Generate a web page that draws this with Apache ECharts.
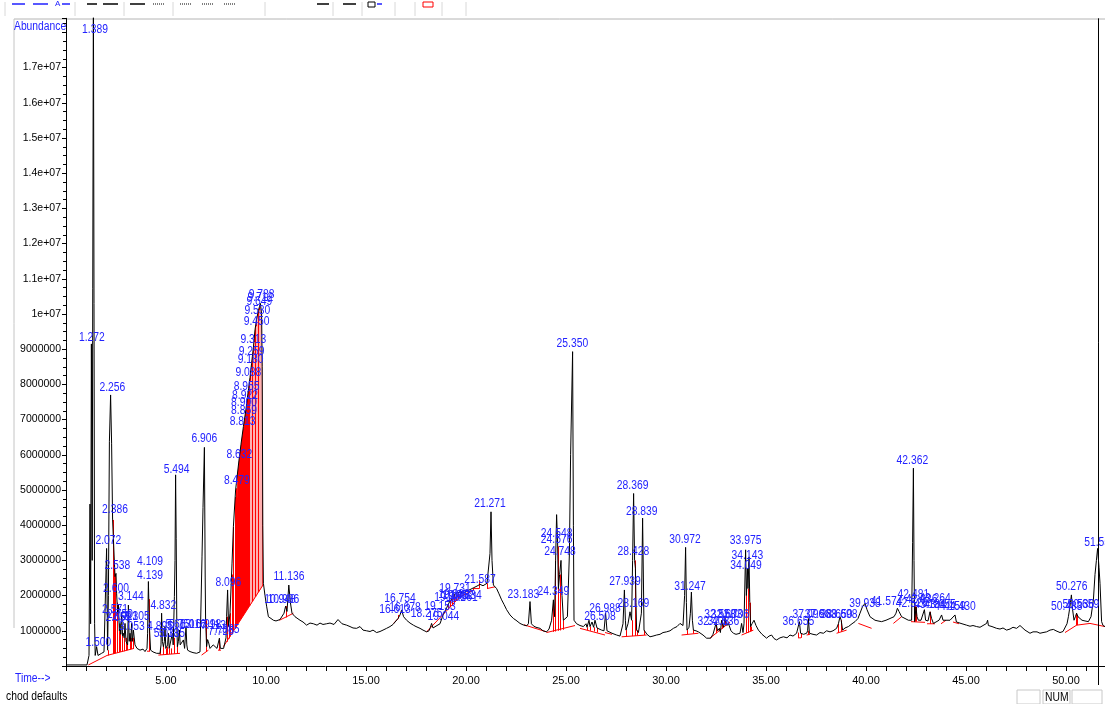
<!DOCTYPE html>
<html><head><meta charset="utf-8">
<script src="https://cdn.jsdelivr.net/npm/echarts@6/dist/echarts.min.js"></script>
<style>html,body{margin:0;padding:0;background:#fff}#c{width:1105px;height:704px}</style>
</head><body><div id="c"></div>
<script>
// Chromatogram trace: [time (min), abundance (millions)]
const TRACE = [[0.05,0.03],[1.05,0.03],[1.15,0.3],[1.2,4.6],[1.23,1.2],[1.27,9.15],[1.31,3.0],[1.37,19.5],[1.4,10.3],[1.43,1.2],[1.46,0.3],[1.53,0.55],[1.6,0.3],[1.67,0.35],[1.78,0.36],[1.9,0.4],[1.97,0.38],[2.03,3.34],[2.08,0.45],[2.12,2.0],[2.17,6.37],[2.23,7.7],[2.28,6.33],[2.33,4.15],[2.38,4.1],[2.45,2.54],[2.5,2.63],[2.53,2.07],[2.58,1.5],[2.62,1.73],[2.67,1.0],[2.7,1.21],[2.74,0.9],[2.78,1.5],[2.83,0.85],[2.87,0.93],[2.91,0.8],[2.95,1.21],[3.0,0.7],[3.03,0.74],[3.08,0.6],[3.12,1.73],[3.16,0.7],[3.2,0.93],[3.24,0.7],[3.28,1.21],[3.32,0.7],[3.37,1.02],[3.45,0.6],[3.55,0.5],[3.7,0.45],[3.85,0.48],[3.95,0.41],[4.05,0.5],[4.08,0.93],[4.12,2.4],[4.17,1.12],[4.23,0.45],[4.35,0.4],[4.53,0.36],[4.7,0.36],[4.75,0.6],[4.78,1.5],[4.82,0.7],[4.87,0.55],[4.92,0.7],[4.95,1.12],[4.99,0.5],[5.03,0.45],[5.08,0.6],[5.12,0.93],[5.16,0.5],[5.2,0.45],[5.26,0.55],[5.32,0.93],[5.36,0.6],[5.42,1.97],[5.45,3.0],[5.48,5.43],[5.51,3.63],[5.54,1.2],[5.57,0.55],[5.62,0.7],[5.67,1.02],[5.71,0.6],[5.75,0.55],[5.8,0.65],[5.87,0.74],[5.93,0.5],[6.0,1.12],[6.04,0.6],[6.08,0.45],[6.2,0.41],[6.35,0.38],[6.53,0.36],[6.7,0.4],[6.75,0.45],[6.8,3.1],[6.85,4.5],[6.92,6.21],[6.96,2.5],[6.98,1.3],[7.03,0.55],[7.08,0.75],[7.12,0.69],[7.2,0.5],[7.28,0.45],[7.36,0.6],[7.45,0.55],[7.55,0.5],[7.62,0.45],[7.67,0.79],[7.72,0.5],[7.78,0.45],[7.88,0.5],[7.95,0.5],[8.0,0.8],[8.03,1.4],[8.08,2.16],[8.13,1.12],[8.2,1.5],[8.3,2.9],[8.37,3.96],[8.48,5.0],[8.56,5.4],[8.65,5.85],[8.75,6.3],[8.87,6.8],[9.0,7.3],[9.12,7.84],[9.2,8.2],[9.28,8.6],[9.37,9.05],[9.45,9.55],[9.53,9.85],[9.62,10.1],[9.72,10.3],[9.78,10.0],[9.81,8.5],[9.84,4.0],[9.87,2.35],[9.95,2.0],[10.03,1.7],[10.12,1.4],[10.25,1.35],[10.37,1.3],[10.5,1.28],[10.7,1.32],[10.8,1.35],[10.9,1.5],[10.98,1.7],[11.05,1.55],[11.14,2.3],[11.22,1.8],[11.3,1.5],[11.45,1.4],[11.55,1.35],[11.7,1.3],[11.85,1.25],[12.03,1.16],[12.2,1.22],[12.37,1.2],[12.55,1.16],[12.7,1.22],[12.85,1.18],[13.03,1.2],[13.2,1.22],[13.4,1.18],[13.6,1.32],[13.8,1.2],[14.03,1.16],[14.2,1.12],[14.35,1.08],[14.53,1.07],[14.7,1.12],[14.85,1.02],[15.03,1.0],[15.2,0.98],[15.35,1.02],[15.53,0.95],[15.7,0.98],[15.85,1.02],[16.03,1.07],[16.2,1.12],[16.35,1.18],[16.45,1.21],[16.6,1.35],[16.7,1.45],[16.78,1.59],[16.88,1.4],[17.03,1.3],[17.2,1.22],[17.37,1.16],[17.5,1.12],[17.7,1.07],[17.85,1.02],[18.03,0.97],[18.15,1.0],[18.22,1.1],[18.28,1.21],[18.35,1.08],[18.45,1.1],[18.55,1.15],[18.7,1.2],[18.85,1.45],[19.03,1.65],[19.2,1.85],[19.37,1.95],[19.45,2.05],[19.55,2.0],[19.7,2.1],[19.85,2.07],[20.03,2.13],[20.2,2.17],[20.37,2.22],[20.55,2.27],[20.7,2.32],[20.85,2.28],[20.95,2.3],[21.05,2.35],[21.12,2.4],[21.2,3.2],[21.25,4.38],[21.3,3.0],[21.37,2.3],[21.45,2.28],[21.53,2.2],[21.65,2.05],[21.78,1.88],[21.9,1.75],[22.03,1.6],[22.2,1.45],[22.37,1.35],[22.5,1.3],[22.7,1.21],[22.85,1.17],[23.03,1.14],[23.12,1.2],[23.2,1.83],[23.27,1.2],[23.37,1.14],[23.5,1.1],[23.7,1.07],[23.85,1.0],[24.03,0.97],[24.15,1.05],[24.28,1.3],[24.37,1.88],[24.43,1.4],[24.48,3.0],[24.53,4.3],[24.58,3.5],[24.62,2.2],[24.68,2.6],[24.75,3.0],[24.8,2.0],[24.87,1.3],[24.95,1.3],[25.07,1.4],[25.17,3.2],[25.23,6.0],[25.33,8.93],[25.37,4.0],[25.4,1.3],[25.53,1.2],[25.7,1.15],[25.87,1.12],[26.0,1.2],[26.05,1.1],[26.15,1.3],[26.2,1.12],[26.3,1.25],[26.38,1.1],[26.45,1.3],[26.55,1.08],[26.65,1.05],[26.78,1.02],[26.9,1.0],[26.98,1.5],[27.05,1.0],[27.12,0.97],[27.3,0.93],[27.53,0.88],[27.7,0.85],[27.78,0.83],[27.85,1.2],[27.92,2.16],[27.97,1.3],[28.0,1.02],[28.1,1.2],[28.2,1.54],[28.28,1.3],[28.33,3.0],[28.38,4.9],[28.43,3.0],[28.47,2.78],[28.5,1.8],[28.53,1.02],[28.62,0.95],[28.7,0.93],[28.77,1.5],[28.83,4.2],[28.87,2.5],[28.9,1.02],[29.05,0.9],[29.2,0.83],[29.35,0.85],[29.53,0.88],[29.7,0.9],[29.85,0.95],[30.03,0.97],[30.2,1.0],[30.37,1.07],[30.55,1.12],[30.7,1.21],[30.85,1.15],[30.93,2.0],[30.98,3.37],[31.02,1.8],[31.05,1.02],[31.15,1.1],[31.22,1.5],[31.27,2.1],[31.32,1.3],[31.37,1.02],[31.5,1.0],[31.62,0.97],[31.7,0.93],[31.85,0.88],[32.03,0.79],[32.23,0.79],[32.35,0.9],[32.45,0.95],[32.5,1.21],[32.58,1.0],[32.67,1.07],[32.72,0.95],[32.78,1.3],[32.88,1.1],[32.95,1.35],[33.05,1.15],[33.12,1.21],[33.25,1.0],[33.37,0.93],[33.5,0.9],[33.7,0.93],[33.78,1.21],[33.85,0.95],[33.9,1.2],[33.98,3.3],[34.02,2.0],[34.07,2.78],[34.1,2.2],[34.15,3.1],[34.19,1.8],[34.23,1.12],[34.3,1.2],[34.4,1.3],[34.5,1.15],[34.62,1.02],[34.8,0.9],[35.03,0.79],[35.15,0.85],[35.28,0.88],[35.4,0.78],[35.53,0.74],[35.7,0.8],[35.87,0.83],[36.05,0.8],[36.2,0.88],[36.35,0.85],[36.53,0.93],[36.62,0.95],[36.67,1.26],[36.73,0.93],[36.88,0.9],[37.03,0.93],[37.08,1.0],[37.12,1.35],[37.17,0.93],[37.35,0.9],[37.53,0.88],[37.7,0.95],[37.87,0.93],[38.03,1.0],[38.2,0.97],[38.35,1.0],[38.53,1.07],[38.62,1.2],[38.7,1.4],[38.76,1.3],[38.83,1.02],[38.95,1.08],[39.12,1.12],[39.3,1.2],[39.45,1.26],[39.6,1.35],[39.7,1.5],[39.82,1.68],[39.95,1.78],[40.05,1.6],[40.2,1.4],[40.3,1.35],[40.45,1.3],[40.6,1.28],[40.78,1.26],[41.0,1.3],[41.2,1.35],[41.4,1.4],[41.5,1.5],[41.57,1.64],[41.65,1.55],[41.78,1.4],[41.95,1.35],[42.12,1.3],[42.28,1.3],[42.33,3.5],[42.37,5.62],[42.4,3.0],[42.43,1.26],[42.5,1.68],[42.55,1.4],[42.62,1.3],[42.75,1.3],[42.85,1.35],[42.92,1.6],[42.98,1.3],[43.1,1.28],[43.2,1.54],[43.28,1.35],[43.37,1.21],[43.5,1.25],[43.65,1.3],[43.78,1.45],[43.85,1.3],[43.95,1.35],[44.05,1.3],[44.2,1.3],[44.3,1.28],[44.45,1.45],[44.52,1.25],[44.62,1.21],[44.8,1.2],[45.03,1.16],[45.2,1.13],[45.35,1.15],[45.53,1.12],[45.7,1.1],[45.85,1.15],[46.03,1.21],[46.08,1.3],[46.12,1.15],[46.3,1.12],[46.53,1.07],[46.7,1.05],[46.85,1.08],[47.03,1.02],[47.2,1.05],[47.35,1.1],[47.53,1.07],[47.7,1.15],[47.8,1.1],[47.95,1.02],[48.2,0.93],[48.35,0.97],[48.45,1.02],[48.55,0.97],[48.7,0.93],[48.85,0.95],[49.03,0.97],[49.2,1.02],[49.37,1.04],[49.5,1.0],[49.7,0.95],[49.85,0.98],[49.95,1.02],[50.05,1.2],[50.12,1.4],[50.2,1.7],[50.27,2.02],[50.33,1.6],[50.4,1.3],[50.47,1.4],[50.53,1.5],[50.6,1.4],[50.7,1.4],[50.8,1.3],[50.95,1.28],[51.12,1.26],[51.25,1.4],[51.37,1.88],[51.45,2.6],[51.52,3.0],[51.58,3.34],[51.65,2.8],[51.7,2.35],[51.78,1.26],[51.85,1.15],[51.95,1.12]];

// Integration baselines: [t1, v1, t2, v2] (millions)
const BASE_SEGS = [[1.12,0.03,2.05,0.3],[2.05,0.3,3.4,0.5],[4.05,0.42,4.2,0.42],[4.62,0.31,5.7,0.36],[6.78,0.31,7.12,0.45],[7.6,0.45,7.75,0.45],[7.87,0.55,9.85,2.3],[10.67,1.3,11.03,1.4],[11.03,1.4,11.37,1.5],[16.37,1.21,16.62,1.35],[18.03,0.97,19.7,1.97],[19.7,1.97,20.37,2.16],[20.37,2.2,20.67,2.2],[21.05,2.2,21.45,2.25],[22.9,1.17,24.03,0.97],[24.03,0.95,25.45,1.15],[25.7,1.07,26.95,0.88],[26.95,0.95,27.3,0.9],[27.78,0.83,29.03,0.88],[30.78,0.88,31.62,0.93],[32.2,0.79,33.2,1.25],[33.78,0.88,34.37,1.02],[36.6,0.8,36.75,0.8],[37.03,0.88,37.2,0.9],[38.53,0.93,39.03,1.02],[39.62,1.21,40.28,1.07],[41.37,1.21,41.78,1.4],[42.25,1.26,42.95,1.24],[43.05,1.2,43.45,1.2],[43.75,1.2,44.0,1.3],[44.35,1.25,44.65,1.2],[49.95,0.95,50.53,1.16],[50.53,1.16,51.2,1.21],[51.2,1.21,51.95,1.12]];

// Peak drop lines: [t, base, top] (millions)
const DROPS = [[2.08,0.3,0.45],[2.35,0.34,4.15],[2.42,0.35,3.0],[2.47,0.36,2.6],[2.55,0.37,1.8],[2.65,0.39,1.0],[2.72,0.4,1.0],[2.8,0.41,0.9],[2.9,0.42,0.8],[2.98,0.44,0.8],[3.06,0.45,0.6],[3.18,0.47,0.8],[3.26,0.48,0.8],[3.34,0.49,0.8],[4.14,0.42,1.9],[4.72,0.32,0.5],[4.85,0.32,0.6],[4.99,0.33,0.5],[5.06,0.33,0.55],[5.16,0.34,0.5],[5.24,0.34,0.5],[5.38,0.35,0.8],[5.56,0.36,0.6],[6.98,0.4,1.3],[7.67,0.45,0.79],[8.03,0.69,1.4],[8.13,0.78,1.12],[8.2,0.84,1.5],[8.28,0.91,2.6],[8.37,0.99,3.96],[8.45,1.06,4.8],[8.5,1.11,5.05],[10.98,1.38,1.7],[16.62,1.35,1.45],[19.1,1.61,1.75],[19.2,1.67,1.85],[19.3,1.73,1.92],[19.4,1.79,2.0],[19.5,1.85,2.02],[19.6,1.91,2.05],[19.68,1.96,2.08],[20.37,2.16,2.22],[20.67,2.2,2.44],[21.05,2.2,2.35],[24.37,0.97,1.85],[24.47,0.98,3.0],[24.6,1.0,3.4],[24.68,1.01,2.6],[24.87,1.03,1.3],[26.05,1.02,1.1],[26.2,1.0,1.12],[26.38,0.98,1.1],[26.55,0.95,1.08],[28.0,0.84,1.02],[28.28,0.85,1.3],[28.43,0.86,3.0],[28.47,0.86,2.78],[28.53,0.86,1.02],[28.9,0.88,1.02],[31.05,0.9,1.02],[31.37,0.92,1.02],[32.5,0.93,1.21],[32.67,1.01,1.07],[32.78,1.06,1.3],[32.95,1.14,1.35],[34.02,0.94,2.0],[34.1,0.95,2.2],[34.19,0.98,1.8],[34.23,0.99,1.12],[36.62,0.8,0.95],[36.73,0.8,0.93],[37.08,0.88,1.0],[38.62,0.95,1.2],[38.76,0.97,1.3],[42.45,1.26,1.7],[42.5,1.26,1.68],[43.2,1.2,1.54],[50.5,1.15,1.5],[50.56,1.16,1.45]];

// Large integrated hump: time span and its baseline end points
const HUMP_SPAN = [8.5, 9.84];
const HUMP_BASE = [[9.84,2.29],[8.5,1.11]];
// lighter stripes inside the hump: [t, base, top]
const HUMP_STRIPES = [[9.18,1.71,8.1],[9.25,1.77,8.45],[9.33,1.84,8.85],[9.4,1.9,9.2],[9.48,1.97,9.65],[9.56,2.04,9.95],[9.63,2.11,10.1],[9.7,2.17,10.25],[9.77,2.23,10.05]];

// Peak labels: [text, t, v(millions)]
const PEAK_LABELS = [["1.389",1.45,18.07],["1.272",1.29,9.34],["1.500",1.62,0.66],["2.072",2.12,3.55],["2.256",2.32,7.92],["2.386",2.45,4.45],["2.538",2.57,2.84],["2.600",2.5,2.21],["3.144",3.24,1.97],["2.571",2.45,1.59],["2.659",2.62,1.36],["2.750",2.7,1.45],["2.921",2.95,1.4],["3.053",3.29,1.12],["3.305",3.54,1.4],["4.109",4.2,2.96],["4.139",4.2,2.56],["4.832",4.87,1.7],["4.895",4.7,1.12],["5.033",5.03,0.93],["5.185",5.3,0.93],["5.613",5.62,1.16],["5.751",5.8,1.16],["6.016",6.35,1.16],["5.494",5.53,5.57],["6.906",6.92,6.46],["6.998",7.12,1.16],["7.113",7.37,1.14],["7.725",7.75,0.97],["7.885",8.03,1.04],["8.096",8.12,2.37],["8.479",8.54,5.26],["8.632",8.67,5.99],["8.813",8.83,6.94],["8.859",8.9,7.24],["8.900",8.9,7.48],["8.922",8.95,7.67],["8.955",9.03,7.93],["9.088",9.12,8.32],["9.180",9.23,8.71],["9.259",9.28,8.93],["9.313",9.37,9.28],["9.450",9.53,9.78],["9.530",9.57,10.09],["9.649",9.67,10.35],["9.712",9.72,10.45],["9.788",9.78,10.54],["10.948",10.7,1.88],["10.986",10.87,1.88],["11.136",11.15,2.54],["16.613",16.45,1.59],["16.754",16.7,1.92],["16.678",16.95,1.67],["18.275",18.03,1.5],["19.044",18.87,1.4],["19.153",18.7,1.68],["19.731",19.45,2.21],["19.301",19.2,1.93],["19.389",19.4,2.02],["19.452",19.6,1.99],["19.561",19.8,1.93],["19.634",20.0,1.99],["21.587",20.7,2.44],["21.271",21.2,4.62],["23.183",22.87,2.02],["24.349",24.37,2.11],["24.548",24.53,3.77],["24.576",24.53,3.6],["24.748",24.7,3.25],["25.350",25.32,9.15],["26.508",26.7,1.4],["26.988",26.95,1.64],["27.939",27.95,2.39],["28.169",28.37,1.78],["28.369",28.33,5.12],["28.428",28.37,3.25],["28.839",28.79,4.38],["30.972",30.95,3.58],["31.247",31.2,2.25],["32.408",32.37,1.26],["32.558",32.7,1.45],["32.603",33.03,1.47],["32.706",33.37,1.47],["32.536",32.87,1.26],["33.975",33.98,3.56],["34.143",34.07,3.13],["34.049",34.0,2.85],["36.655",36.62,1.26],["37.096",37.12,1.45],["37.963",37.73,1.45],["38.650",38.53,1.45],["38.698",38.78,1.45],["39.938",39.95,1.78],["41.574",41.03,1.83],["42.362",42.32,5.83],["42.481",42.37,2.02],["42.526",42.28,1.78],["42.936",42.78,1.88],["43.264",43.45,1.92],["43.184",43.2,1.73],["43.655",43.7,1.73],["44.159",44.2,1.68],["44.430",44.7,1.68],["50.276",50.29,2.25],["50.483",50.04,1.68],["50.536",50.62,1.73],["50.659",50.87,1.73],["51.559",51.7,3.5]];

const CURSOR_T = 51.59;
const X_TICKS = {min:0, max:51.95, step:5};
const Y_TICKS = {min:0, max:18.4e6, step:1e6};

const M = 1e6;
const FONT = "'Liberation Sans', Arial, sans-serif";
const BLUE = '#2323ff';
const RED = '#ff0000';
const NARROW = 0.86;

const chart = echarts.init(document.getElementById('c'), null, {renderer:'canvas'});

const humpPoly = TRACE.filter(p => p[0] >= HUMP_SPAN[0] && p[0] <= HUMP_SPAN[1]).concat(HUMP_BASE);

function yFmt(v){
  if (v <= 0 || v > 1.75e7) return '';
  if (v >= 1e7) { const m = Math.round(v/1e6)/10; return m + 'e+07'; }
  return String(Math.round(v));
}

const toolbar = [];
function tl(x1,x2,y,c,dash){ toolbar.push({type:'line', shape:{x1,y1:y,x2,y2:y}, style:{stroke:c, lineWidth:1.5, lineDash:dash||null}, silent:true}); }
tl(12,25,4,'#2020ff');tl(33,48,4,'#2020ff');tl(62,70,4,'#2020ff');
tl(87,97,4,'#000');tl(103,118,4,'#000');tl(130,145,4,'#000');
tl(153,165,4,'#555',[1,1]);tl(180,192,4,'#555',[1,1]);tl(202,213,4,'#555',[1,1]);tl(224,236,4,'#555',[1,1]);
tl(317,329,4,'#000');tl(343,356,4,'#000');tl(377,382,4,'#2020ff');
[5,75,124,173,265,333,362,395,415,442,466].forEach(x=>toolbar.push({type:'line', shape:{x1:x,y1:2,x2:x,y2:16}, style:{stroke:'#d8d8d8', lineWidth:1}, silent:true}));
toolbar.push({type:'rect', shape:{x:368,y:2,width:7,height:5}, style:{fill:'none', stroke:'#000', lineWidth:1}});
toolbar.push({type:'rect', shape:{x:423,y:2,width:10,height:5}, style:{fill:'none', stroke:'#ff0000', lineWidth:1}});
toolbar.push({type:'text', x:55, y:0, style:{text:'A', fill:'#2020ff', font:'8px '+FONT}});

const option = {
  animation:false,
  backgroundColor:'#fff',
  grid:{left:66, right:0, top:18.3, bottom:38},
  xAxis:{type:'value', min:X_TICKS.min, max:X_TICKS.max, interval:X_TICKS.step,
    axisLine:{onZero:false, lineStyle:{color:'#000', width:1}},
    axisTick:{length:5, lineStyle:{color:'#000'}},
    minorTick:{show:true, splitNumber:5, length:5, lineStyle:{color:'#000'}},
    splitLine:{show:false}, minorSplitLine:{show:false},
    axisLabel:{color:'#000', fontFamily:FONT, fontSize:11, margin:9, showMinLabel:false, showMaxLabel:false,
      formatter:v => (v > 0 && Math.abs(v/5 - Math.round(v/5)) < 1e-6) ? v.toFixed(2) : ''}},
  yAxis:{type:'value', min:Y_TICKS.min, max:Y_TICKS.max, interval:Y_TICKS.step,
    axisLine:{show:true, lineStyle:{color:'#000', width:1}},
    axisTick:{show:true, length:4, lineStyle:{color:'#000'}},
    minorTick:{show:true, splitNumber:4, length:3, lineStyle:{color:'#000'}},
    splitLine:{show:false},
    axisLabel:{color:'#000', fontFamily:FONT, fontSize:10.5, margin:5, showMinLabel:false, showMaxLabel:false, formatter:yFmt}},
  graphic:[
    {type:'line', shape:{x1:14,y1:19,x2:1105,y2:19}, style:{stroke:'#b4b4b4', lineWidth:1}, silent:true},
    {type:'line', shape:{x1:14,y1:19,x2:14,y2:628}, style:{stroke:'#c4c4c4', lineWidth:1}, silent:true},
    {type:'text', x:14, y:21, scaleX:NARROW, style:{text:'Abundance', fill:BLUE, font:'12px '+FONT}},
    {type:'text', x:15, y:673, scaleX:NARROW, style:{text:'Time-->', fill:BLUE, font:'12px '+FONT}},
    {type:'text', x:6, y:691, scaleX:NARROW, style:{text:'chod defaults', fill:'#000', font:'12px '+FONT}},
    {type:'rect', shape:{x:1017,y:690,width:23,height:14}, style:{fill:'none', stroke:'#c8c8c8', lineWidth:1}},
    {type:'rect', shape:{x:1043,y:690,width:27,height:14}, style:{fill:'none', stroke:'#c8c8c8', lineWidth:1}},
    {type:'rect', shape:{x:1072,y:690,width:30,height:14}, style:{fill:'none', stroke:'#c8c8c8', lineWidth:1}},
    {type:'text', x:1045, y:692, scaleX:NARROW, style:{text:'NUM', fill:'#000', font:'12px '+FONT}}
  ].concat(toolbar),
  series:[
    {type:'custom', name:'humpFill', z:1, silent:true, clip:true,
      data:[[HUMP_SPAN[0], 0]], encode:{x:0, y:1},
      renderItem:(params, api) => ({type:'polygon', shape:{points:humpPoly.map(p => api.coord([p[0], p[1]*M]))}, style:{fill:RED}})},
    {type:'custom', name:'humpStripes', z:2, silent:true, clip:true,
      data:HUMP_STRIPES.map(d => [d[0], d[1]*M, d[2]*M]), encode:{x:0, y:[1,2]},
      renderItem:(params, api) => { const a = api.coord([api.value(0), api.value(1)]); const b = api.coord([api.value(0), api.value(2)]);
        return {type:'line', shape:{x1:Math.round(a[0])+0.5,y1:a[1],x2:Math.round(a[0])+0.5,y2:b[1]}, style:{stroke:'#ffb0b0', lineWidth:1}}; }},
    {type:'custom', name:'baselines', z:3, silent:true, clip:true,
      data:BASE_SEGS.map(s => [s[0], s[1]*M, s[2], s[3]*M]), encode:{x:[0,2], y:[1,3]},
      renderItem:(params, api) => { const a = api.coord([api.value(0), api.value(1)]); const b = api.coord([api.value(2), api.value(3)]);
        return {type:'line', shape:{x1:a[0],y1:a[1],x2:b[0],y2:b[1]}, style:{stroke:RED, lineWidth:1}}; }},
    {type:'custom', name:'drops', z:3, silent:true, clip:true,
      data:DROPS.map(d => [d[0], d[1]*M, d[2]*M]), encode:{x:0, y:[1,2]},
      renderItem:(params, api) => { const a = api.coord([api.value(0), api.value(1)]); const b = api.coord([api.value(0), api.value(2)]);
        return {type:'line', shape:{x1:Math.round(a[0])+0.5,y1:a[1],x2:Math.round(a[0])+0.5,y2:b[1]}, style:{stroke:RED, lineWidth:1}}; }},
    {type:'line', name:'TIC', z:5, data:TRACE.map(p => [p[0], p[1]*M]), showSymbol:false, symbol:'none',
      lineStyle:{color:'#000', width:1}, clip:true, silent:true,
      markLine:{silent:true, symbol:'none', label:{show:false}, lineStyle:{color:'#000', type:'solid', width:1}, data:[{xAxis:CURSOR_T}]}},
    {type:'custom', name:'labels', z:10, silent:true, clip:false,
      data:PEAK_LABELS.map(l => [l[1], l[2]*M]), encode:{x:0, y:1},
      renderItem:(params, api) => { const p = api.coord([api.value(0), api.value(1)]);
        return {type:'text', x:p[0], y:p[1], scaleX:NARROW, style:{text:PEAK_LABELS[params.dataIndex][0], fill:BLUE, font:'12px '+FONT, align:'center', verticalAlign:'middle'}}; }}
  ]
};
chart.setOption(option);
// extend the time cursor below the axis, positioned through the x scale
const cx = Math.round(chart.convertToPixel({xAxisIndex:0}, CURSOR_T)) + 0.5;
const y0 = chart.convertToPixel({yAxisIndex:0}, 0);
chart.setOption({graphic: option.graphic.concat([{type:'line', shape:{x1:cx, y1:y0, x2:cx, y2:y0+19}, style:{stroke:'#000', lineWidth:1}, silent:true}])});
</script>
</body></html>
